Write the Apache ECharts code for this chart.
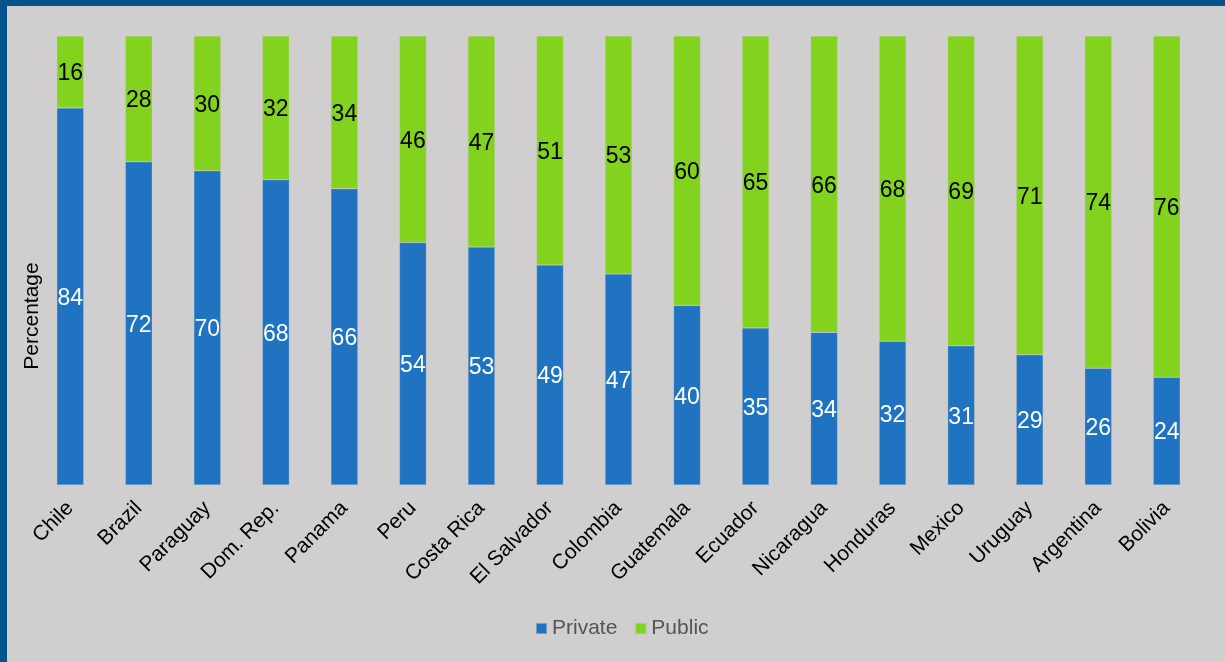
<!DOCTYPE html>
<html>
<head>
<meta charset="utf-8">
<script src="https://cdn.jsdelivr.net/npm/echarts@6/dist/echarts.min.js"></script>
<style>
  html, body { margin: 0; padding: 0; background: #d0cece; }
  #wrap { position: relative; width: 1225px; height: 662px; overflow: hidden; }
  #chart { position: absolute; left: 0; top: 0; width: 1225px; height: 662px; }
  .edge { position: absolute; background: #03538b; pointer-events: none; }
</style>
</head>
<body>
<div id="wrap">
  <div id="chart"></div>
  <div class="edge" style="left:0;top:0;width:1225px;height:6px;"></div>
  <div class="edge" style="left:0;top:0;width:7px;height:662px;"></div>
</div>
<script>
// Share of provision by sector, per country (percent)
const countries = ['Chile', 'Brazil', 'Paraguay', 'Dom. Rep.', 'Panama', 'Peru', 'Costa Rica',
  'El Salvador', 'Colombia', 'Guatemala', 'Ecuador', 'Nicaragua', 'Honduras', 'Mexico',
  'Uruguay', 'Argentina', 'Bolivia'];
const privateShare = [84, 72, 70, 68, 66, 54, 53, 49, 47, 40, 35, 34, 32, 31, 29, 26, 24];
const publicShare = [16, 28, 30, 32, 34, 46, 47, 51, 53, 60, 65, 66, 68, 69, 71, 74, 76];

const chart = echarts.init(document.getElementById('chart'), null, { renderer: 'canvas' });
const font = '"Liberation Sans", Arial, sans-serif';

chart.setOption({
  backgroundColor: '#d0cece',
  animation: false,
  grid: { left: 36, right: 24, top: 36, bottom: 177, containLabel: false },
  graphic: [{
    type: 'text',
    x: 32,
    y: 316,
    rotation: Math.PI / 2,
    style: {
      text: 'Percentage',
      fill: '#000',
      fontSize: 21,
      fontFamily: font,
      align: 'center',
      verticalAlign: 'middle'
    }
  }],
  legend: {
    bottom: 18,
    left: 530,
    itemWidth: 11,
    itemHeight: 11,
    itemGap: 17,
    icon: 'rect',
    textStyle: { color: '#555', fontSize: 21, fontFamily: font, padding: [0, 0, 0, 0] },
    data: ['Private', 'Public']
  },
  xAxis: {
    type: 'category',
    data: countries,
    axisLine: { show: false },
    axisTick: { show: false },
    axisLabel: {
      rotate: 45,
      interval: 0,
      margin: 20,
      color: '#000',
      fontSize: 21,
      fontFamily: font
    }
  },
  yAxis: {
    type: 'value',
    min: 0,
    max: 100,
    axisLine: { show: false },
    axisTick: { show: false },
    axisLabel: { show: false },
    splitLine: { show: false }
  },
  series: [
    {
      name: 'Private',
      type: 'bar',
      stack: 'share',
      barWidth: 27,
      data: privateShare,
      itemStyle: { color: '#1f73c1', borderColor: 'rgba(200,200,200,0.5)', borderWidth: 0.6 },
      label: { show: true, position: 'inside', offset: [0, 2], color: '#fff', fontSize: 23, fontFamily: font }
    },
    {
      name: 'Public',
      type: 'bar',
      stack: 'share',
      barWidth: 27,
      data: publicShare,
      itemStyle: { color: '#83d31e', borderColor: 'rgba(200,200,200,0.5)', borderWidth: 0.6 },
      label: { show: true, position: 'inside', offset: [0, 2], color: '#000', fontSize: 23, fontFamily: font }
    }
  ]
});
</script>
</body>
</html>
